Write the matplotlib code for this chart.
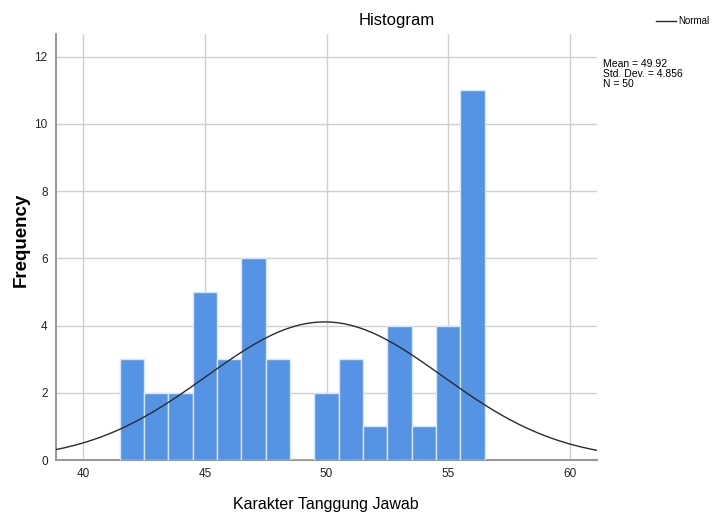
import matplotlib
matplotlib.use('Agg')
import matplotlib.pyplot as plt
import numpy as np

# histogram counts per integer score (bin width 1)
scores = [42, 43, 44, 45, 46, 47, 48, 49, 50, 51, 52, 53, 54, 55, 56]
counts = [3, 2, 2, 5, 3, 6, 3, 0, 2, 3, 1, 4, 1, 4, 11]

mean = 49.92
std = 4.856
n = 50

plt.rcParams['font.family'] = ['Liberation Sans', 'DejaVu Sans']

fig = plt.figure(figsize=(7.15, 5.13), dpi=100)
ax = fig.add_axes([0.0783, 0.1033, 0.7567, 0.8304])

ax.bar(scores, counts, width=1.0, color='#5594e4', edgecolor='#d8e6f7', linewidth=1.0, zorder=3)

xs = np.linspace(38.88, 61.12, 300)
pdf = n * 1.0 / (std * np.sqrt(2 * np.pi)) * np.exp(-0.5 * ((xs - mean) / std) ** 2)
line, = ax.plot(xs, pdf, color='#2b2b2b', linewidth=1.0, zorder=4)

ax.set_xlim(38.88, 61.12)
ax.set_ylim(0, 12.67)
ax.set_xticks([40, 45, 50, 55, 60])
ax.set_yticks([0, 2, 4, 6, 8, 10, 12])
ax.grid(True, color='#d0d0d0', linewidth=1.0, zorder=0)
ax.set_axisbelow(True)
ax.tick_params(length=0, labelsize=8.5, colors='#222222', pad=6)
for s in ['top', 'right']:
    ax.spines[s].set_visible(False)
for s in ['left', 'bottom']:
    ax.spines[s].set_color('#999999')
    ax.spines[s].set_linewidth(1.5)

# titles placed in figure pixels like the SPSS output
fig.text(397 / 715, 1 - 20 / 513, 'Histogram', fontsize=12, ha='center', va='center')
fig.text(326 / 715, 1 - 505 / 513, 'Karakter Tanggung Jawab', fontsize=11.5,
         ha='center', va='center')
fig.text(21 / 715, 1 - 240 / 513, 'Frequency', fontsize=13.5, fontweight='bold',
         rotation=90, ha='center', va='center')

fig.legend([line], ['Normal'], loc='upper right', bbox_to_anchor=(1.005, 0.985),
           frameon=False, fontsize=7, handlelength=2.0, handletextpad=0.3)
fig.text(0.843, 0.885, 'Mean = %.2f\nStd. Dev. = %.3f\nN = %d' % (mean, std, n),
         fontsize=7.5, va='top', ha='left', linespacing=1.0)

fig.savefig('out.png', dpi=100)
